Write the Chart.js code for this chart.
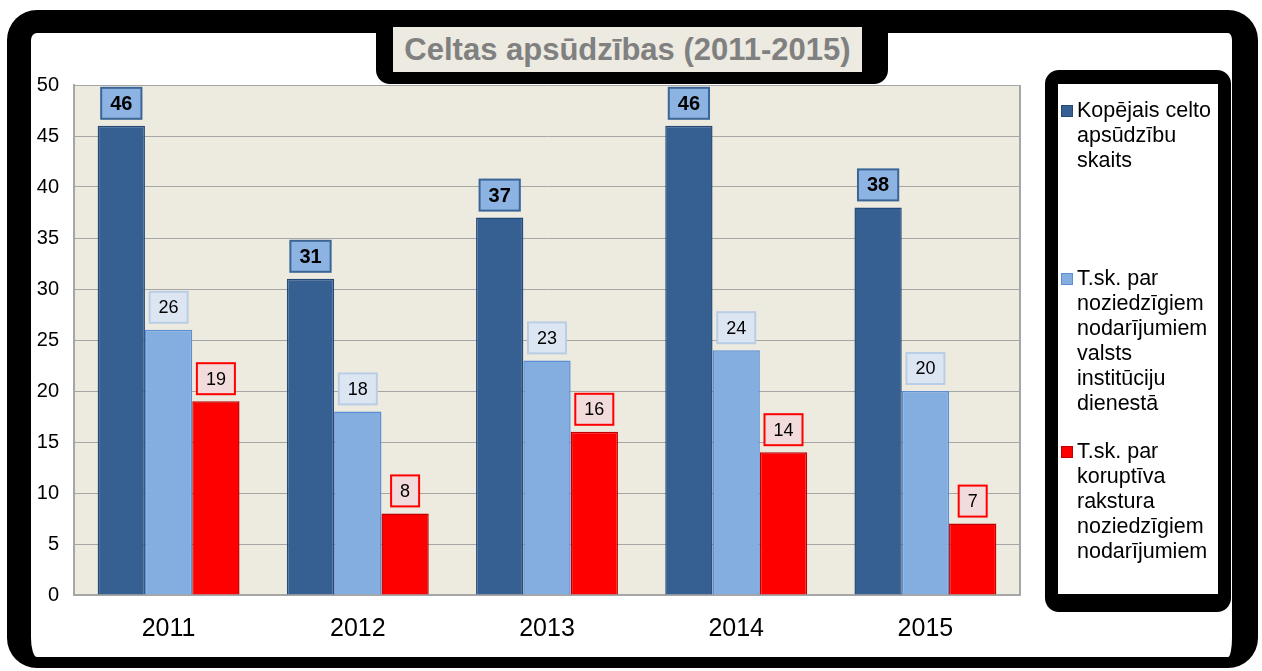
<!DOCTYPE html>
<html>
<head>
<meta charset="utf-8">
<script src="https://cdn.jsdelivr.net/npm/chart.js@4"></script>
<style>
  body { margin: 0; background: #fff; font-family: Arial, "Liberation Sans", sans-serif; }
  #frame {
    position: absolute; left: 7px; top: 10px; width: 1201px; height: 624px;
    border-style: solid; border-color: #000;
    border-width: 23px 26px 11px 24px; border-radius: 30px; background: #fff;
  }
  #title {
    position: absolute; left: 376px; top: 14px; width: 469px; height: 45px;
    border-style: solid; border-color: #000; border-width: 13px 26px 12px 17px;
    border-radius: 14px; background: #ECEAE1; color: #808080;
    font: bold 31px Arial, "Liberation Sans", sans-serif;
    text-align: center; line-height: 45px; z-index: 2; white-space: nowrap;
  }
  #legendBox {
    position: absolute; left: 1045px; top: 70px; width: 160px; height: 510px;
    border: 13px solid #000; border-top-width: 14px; border-bottom-width: 18px;
    border-radius: 14px; background: #fff;
  }
  .item { position: absolute; left: 1077px; font: 21.5px Arial, "Liberation Sans", sans-serif; line-height: 25px; color: #000; }
  .sw { position: absolute; left: -16px; top: 7px; width: 10px; height: 10px; border: 1px solid; }
  canvas { position: absolute; left: 0; top: 0; z-index: 1; }
</style>
</head>
<body>
<div id="frame"></div>
<div id="title"></div>
<div id="legendBox"></div>
<div id="legend"></div>
<canvas id="chart" width="1262" height="671"></canvas>
<script>
const chartTitle = "Celtas apsūdzības (2011-2015)";
const categories = ["2011", "2012", "2013", "2014", "2015"];
const totalCharges = [46, 31, 37, 46, 38];
const stateServiceCharges = [26, 18, 23, 24, 20];
const corruptionCharges = [19, 8, 16, 14, 7];
const seriesLabels = [
  ["Kopējais celto", "apsūdzību", "skaits"],
  ["T.sk. par", "noziedzīgiem", "nodarījumiem", "valsts", "institūciju", "dienestā"],
  ["T.sk. par", "koruptīva", "rakstura", "noziedzīgiem", "nodarījumiem"],
];
const yTicks = { min: 0, max: 50, step: 5 };

// look of each series and its value boxes
const barColors = ["#376092", "#84AEE0", "#FF0000"];
const barBorders = ["#254A78", "#5B8ED4", "#C00000"];
const boxStyles = [
  { bg: "#8DB3E2", border: "#3B6597", font: "bold 20px Arial" },
  { bg: "#DCE6F2", border: "#B9CDE5", font: "18px Arial" },
  { bg: "#F2DCDB", border: "#FF0000", font: "18px Arial" },
];
const legendTops = [98, 266, 439];

document.getElementById("title").innerText = chartTitle;

const plotBackground = {
  id: "plotBackground",
  beforeDraw(chart) {
    const { ctx, chartArea: a } = chart;
    ctx.save();
    ctx.fillStyle = "#EDEAE0";
    ctx.fillRect(a.left, a.top, a.right - a.left, a.bottom - a.top);
    ctx.restore();
  },
  afterDraw(chart) {
    const { ctx, chartArea: a } = chart;
    ctx.save();
    ctx.strokeStyle = "#A6A6A6";
    ctx.lineWidth = 2;
    ctx.beginPath();
    ctx.moveTo(a.right, a.top);
    ctx.lineTo(a.right, a.bottom);
    ctx.stroke();
    ctx.restore();
  },
};

const valueBoxes = {
  id: "valueBoxes",
  afterDatasetsDraw(chart) {
    const ctx = chart.ctx;
    chart.data.datasets.forEach((ds, i) => {
      const st = boxStyles[i];
      chart.getDatasetMeta(i).data.forEach((bar, j) => {
        const text = String(ds.data[j]);
        ctx.save();
        ctx.font = st.font;
        const w = ctx.measureText(text).width + 18;
        const h = 31;
        const x = bar.x - w / 2;
        const y = bar.y - 7 - h;
        ctx.fillStyle = st.bg;
        ctx.fillRect(x, y, w, h);
        ctx.strokeStyle = st.border;
        ctx.lineWidth = 2;
        ctx.strokeRect(x, y, w, h);
        ctx.fillStyle = "#000";
        ctx.textAlign = "center";
        ctx.textBaseline = "middle";
        ctx.fillText(text, bar.x, y + h / 2 + 1);
        ctx.restore();
      });
    });
  },
};

const chart = new Chart(document.getElementById("chart"), {
  type: "bar",
  data: {
    labels: categories,
    datasets: [totalCharges, stateServiceCharges, corruptionCharges].map((d, i) => ({
      label: seriesLabels[i].join(" "),
      data: d,
      backgroundColor: barColors[i],
      borderColor: barBorders[i],
      borderWidth: 1.5,
      categoryPercentage: 0.75,
      barPercentage: 1,
    })),
  },
  options: {
    responsive: false,
    animation: false,
    layout: { padding: { top: 85, right: 242, left: 0, bottom: 0 } },
    plugins: { legend: { display: false }, title: { display: false }, tooltip: { enabled: false } },
    scales: {
      x: {
        grid: { display: false, drawTicks: false },
        border: { color: "#A6A6A6", width: 2 },
        ticks: { color: "#000", font: { family: "Arial", size: 25 }, padding: 19 },
        afterFit(scale) { scale.height = 76; },
      },
      y: {
        min: yTicks.min,
        max: yTicks.max,
        grid: { color: "#A6A6A6", lineWidth: 1, drawTicks: false },
        border: { color: "#A6A6A6", width: 2 },
        ticks: { stepSize: yTicks.step, color: "#000", font: { family: "Arial", size: 20 }, padding: 15 },
        afterFit(scale) { scale.width = 74; },
      },
    },
  },
  plugins: [plotBackground, valueBoxes],
});

// legend built from the datasets
const legend = document.getElementById("legend");
chart.data.datasets.forEach((ds, i) => {
  const item = document.createElement("div");
  item.className = "item";
  item.style.top = legendTops[i] + "px";
  item.style.zIndex = 2;
  const sw = document.createElement("span");
  sw.className = "sw";
  sw.style.background = ds.backgroundColor;
  sw.style.borderColor = ds.borderColor;
  item.appendChild(sw);
  seriesLabels[i].forEach((line) => {
    const l = document.createElement("div");
    l.textContent = line;
    item.appendChild(l);
  });
  legend.appendChild(item);
});
</script>
</body>
</html>
